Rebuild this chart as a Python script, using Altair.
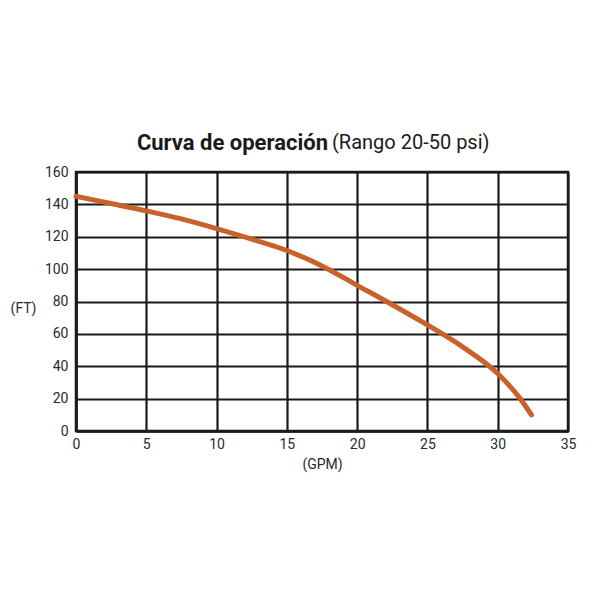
import altair as alt
import pandas as pd

gpm = [0, 2.5, 5, 7.5, 10, 12.5, 15, 17.5, 20, 22.5, 25, 27.5, 30, 31.6, 32.4]
ft = [145, 140.5, 136, 131, 125, 118.5, 111.5, 102, 90, 78, 65.5, 52, 35.5, 20, 10]
x_ticks = [0, 5, 10, 15, 20, 25, 30, 35]
y_ticks = [0, 20, 40, 60, 80, 100, 120, 140, 160]
title_bold = "Curva de operación"
title_rest = "(Rango 20-50 psi)"

df = pd.DataFrame({"gpm": gpm, "ft": ft})
FONT = "Roboto"

line = alt.Chart(df).mark_line(
    color="#c8622a", strokeWidth=5, interpolate="monotone", strokeCap="round"
).encode(
    x=alt.X("gpm:Q", scale=alt.Scale(domain=[0, 35], nice=False),
            axis=alt.Axis(values=x_ticks, title="(GPM)", titleFontWeight="normal",
                          titleFont=FONT, titleFontSize=14, titleColor="#2a2a2a",
                          titlePadding=6, labelPadding=6, labelFlush=False)),
    y=alt.Y("ft:Q", scale=alt.Scale(domain=[0, 160], nice=False),
            axis=alt.Axis(values=y_ticks, title="(FT)", titleAngle=0,
                          titleFontWeight="normal", titleFont=FONT, titleFontSize=14,
                          titleColor="#2a2a2a", titleX=-40, titleY=136,
                          titleAlign="right", titleBaseline="middle", labelPadding=8,
                          labelFlush=False)),
)

tdf = pd.DataFrame({"a": [0]})
t1 = alt.Chart(tdf).mark_text(
    font=FONT, fontSize=22, fontWeight="bold", align="right", baseline="middle", color="#1a1a1a"
).encode(x=alt.value(252), y=alt.value(-29), text=alt.value(title_bold))
t2 = alt.Chart(tdf).mark_text(
    font=FONT, fontSize=20, fontWeight="normal", align="left", baseline="middle", color="#1a1a1a"
).encode(x=alt.value(256), y=alt.value(-29), text=alt.value(title_rest))

chart = alt.layer(line, t1, t2).properties(
    width=492, height=259,
    background="white",
    autosize=alt.AutoSizeParams(type="none"),
    padding={"left": 68, "top": 164, "right": 24, "bottom": 150},
).configure_view(stroke="#1a1a1a", strokeWidth=2.5).configure_axis(
    grid=True, gridColor="#1a1a1a", gridWidth=2.2, gridOpacity=1,
    domainColor="#1a1a1a", domainWidth=2.5, ticks=False,
    labelFont=FONT, labelFontSize=14, labelColor="#2a2a2a",
)

chart.save("out.html", embed_options={"renderer": "svg", "actions": False})
